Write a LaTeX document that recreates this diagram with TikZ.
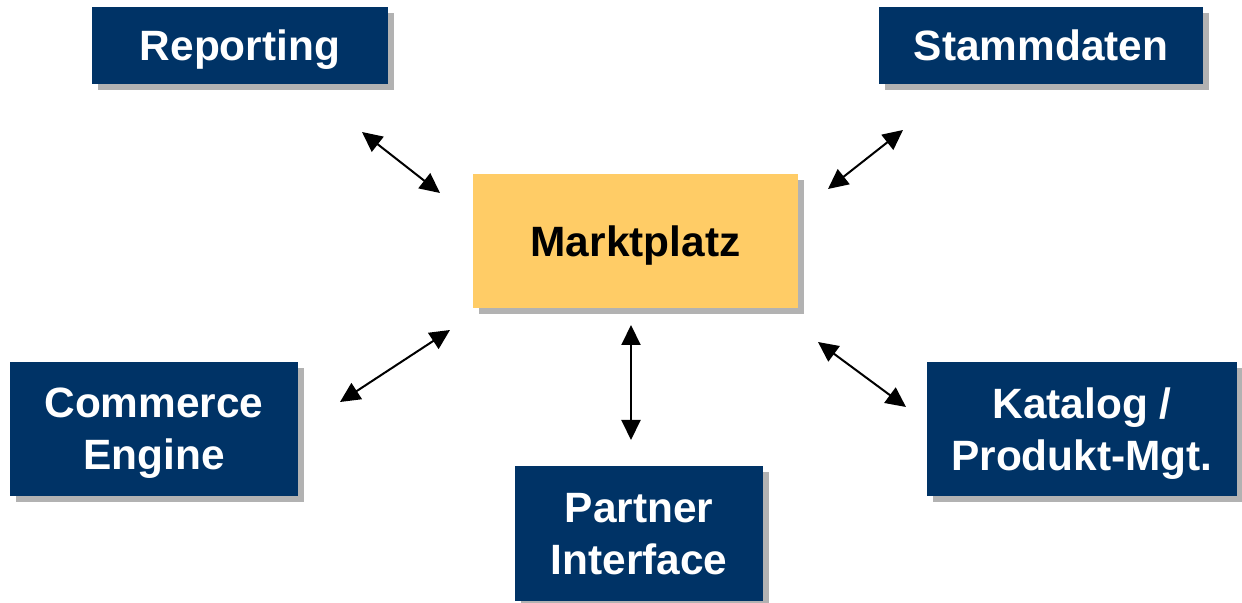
\documentclass[tikz,border=0pt]{standalone}
\usepackage{fontspec}
\setmainfont{Liberation Sans}
\usepackage{tikz}
\usetikzlibrary{arrows.meta,shadows}

\definecolor{navy}{RGB}{0,51,102}
\definecolor{gold}{RGB}{255,204,102}
\definecolor{shade}{RGB}{178,178,178}

\begin{document}
\begin{tikzpicture}[x=0.5pt,y=-0.5pt,>={Triangle[length=10pt,width=9.5pt]}]

	\tikzstyle{module}=[rectangle,fill=navy,text=white,align=center,inner sep=0pt,text depth=0pt,
		font=\fontsize{21.2}{26}\selectfont\bfseries,
		drop shadow={shadow xshift=3pt,shadow yshift=-3pt,fill=shade,opacity=1}]
	\tikzstyle{hub}=[module,fill=gold,text=black]
	\tikzstyle{link}=[<->,line width=1pt,black]

	\useasboundingbox (0,0) rectangle (1242,603);

	\node [module,minimum width=148pt,minimum height=38.5pt] (rep) at (240,45.5) {Reporting};
	\node [module,minimum width=162pt,minimum height=38.5pt] (stamm) at (1041,45.5) {Stammdaten};
	\node [hub,minimum width=162.5pt,minimum height=67pt] (markt) at (635.5,241) {Marktplatz};
	\node [module,minimum width=144pt,minimum height=67pt] (comm) at (154,429) {Commerce\\Engine};
	\node [module,minimum width=124pt,minimum height=67.5pt] (partner) at (639,534) {Partner\\Interface};
	\node [module,minimum width=155pt,minimum height=67pt] (katalog) at (1082,429) {Katalog /\\Produkt-Mgt.};

	% Pfeilenden
	\coordinate (rep-e) at (362,132);
	\coordinate (markt-rep) at (440,193);
	\coordinate (stamm-e) at (903,130);
	\coordinate (markt-stamm) at (828,189);
	\coordinate (comm-e) at (340,402);
	\coordinate (markt-comm) at (450,330);
	\coordinate (partner-e) at (631,440);
	\coordinate (markt-partner) at (631,325);
	\coordinate (katalog-e) at (906,407);
	\coordinate (markt-katalog) at (818,342);

	\draw [link] (rep-e) -- (markt-rep);
	\draw [link] (stamm-e) -- (markt-stamm);
	\draw [link] (comm-e) -- (markt-comm);
	\draw [link] (partner-e) -- (markt-partner);
	\draw [link] (katalog-e) -- (markt-katalog);
\end{tikzpicture}
\end{document}
